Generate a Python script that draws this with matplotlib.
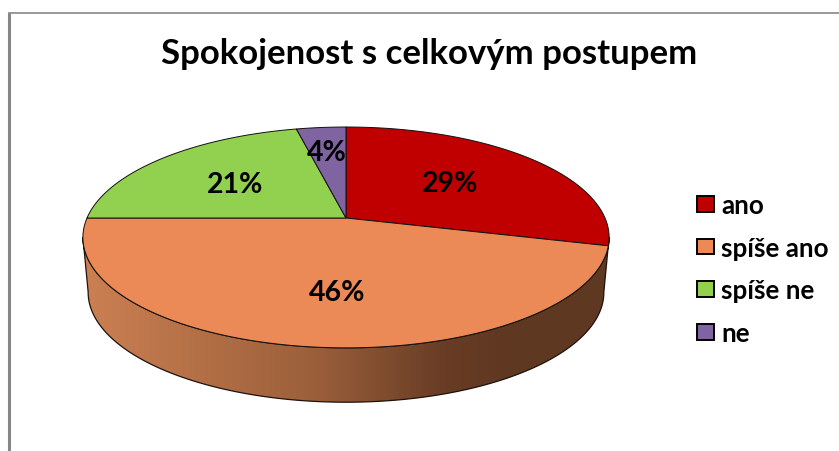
#coding:utf-8
import numpy as np
import matplotlib
matplotlib.use('Agg')
import matplotlib.pyplot as plt
from matplotlib.patches import Polygon, Rectangle
from matplotlib.colors import LinearSegmentedColormap

TITLE = 'Spokojenost s celkovým postupem'
categories = ['ano', 'spíše ano', 'spíše ne', 'ne']
values = [29, 46, 21.4, 3.6]
colors = ['#C00000', '#EB8A56', '#92D050', '#8064A2']

plt.rcParams['font.family'] = ['Lato', 'DejaVu Sans']

# vrchol vysece a perspektiva kruhu (v pixelech)
CX, CY = 346., 219.
A, B, K = 259., 107., 0.176
DEPTH = 55.


def top(t):
    # t = uhel po smeru hodin od 12 h
    X, Y = np.sin(t), np.cos(t)
    w = 1 + K*Y
    return CX + A*X/w, CY - B*Y/w


def bottom(t):
    x, y = top(t)
    return CX + (x-CX)*0.98, CY + (y-CY)*0.995 + DEPTH


fig = plt.figure(figsize=(8.39, 4.52), dpi=100)
ax = fig.add_axes([0, 0, 1, 1])
ax.set_xlim(0, 839)
ax.set_ylim(452, 0)
ax.axis('off')

# ramecek
ax.plot([8.5, 8.5], [452, 13.5], color='#868686', lw=2.2, solid_capstyle='butt')
ax.plot([8, 839], [13.5, 13.5], color='#868686', lw=1.2, solid_capstyle='butt')

# bocni stena s prechodem
tt = np.linspace(0, 2*np.pi, 721)
xt, yt = top(tt)
il, ir = np.argmin(xt), np.argmax(xt)
front = tt[ir:il+1]
xb, yb = bottom(front)
xf, yf = top(front)
wall = Polygon(np.r_[np.c_[xf, yf], np.c_[xb, yb][::-1]], closed=True,
               fc='none', ec='#1e120b', lw=0.9, zorder=2)
ax.add_patch(wall)
cm = LinearSegmentedColormap.from_list('stena', [(0, '#CC8052'), (0.55, '#9A5F3A'),
                                                 (0.85, '#683C25'), (1, '#5F3821')])
grad = ax.imshow(np.linspace(0, 1, 256)[None, :], extent=(82, 510, 420, 200), cmap=cm,
                 aspect='auto', zorder=1)
grad2 = ax.add_patch(Rectangle((510, 200), 110, 220, fc='#5F3821', ec='none', zorder=1))
grad.set_clip_path(wall)
grad2.set_clip_path(wall)
ax.set_xlim(0, 839)
ax.set_ylim(452, 0)

# vysece
start = 0.
total = float(sum(values))
for v, c in zip(values, colors):
    t = np.linspace(start, start + v/total*2*np.pi, 200)
    x, y = top(t)
    ax.add_patch(Polygon(np.r_[[[CX, CY]], np.c_[x, y]], closed=True, fc=c, ec='#111111',
                         lw=0.7, zorder=3))
    start += v/total*2*np.pi

# popisky
label_pos = [(450, 184), (337, 293), (235, 185), (327, 153)]
for v, (lx, ly) in zip(values, label_pos):
    ax.text(lx, ly, '%.0f%%' % v, fontsize=20.5, fontweight='bold', ha='center', va='center',
            color='black', zorder=4)

ax.text(429, 54, TITLE, fontsize=25, fontweight='bold', ha='center', va='center', color='black')

# legenda
handles = [Rectangle((0, 0), 1, 1, fc=c, ec='black', lw=1.4) for c in colors]
leg = ax.legend(handles, categories, loc='upper left', bbox_to_anchor=(697/839, 1-194/452),
                frameon=False, handlelength=0.66, handleheight=0.55,
                handletextpad=0.27, labelspacing=0.72, borderpad=0, borderaxespad=0,
                prop={'weight': 'bold', 'size': 18.7})

fig.savefig('out.png', dpi=100)
